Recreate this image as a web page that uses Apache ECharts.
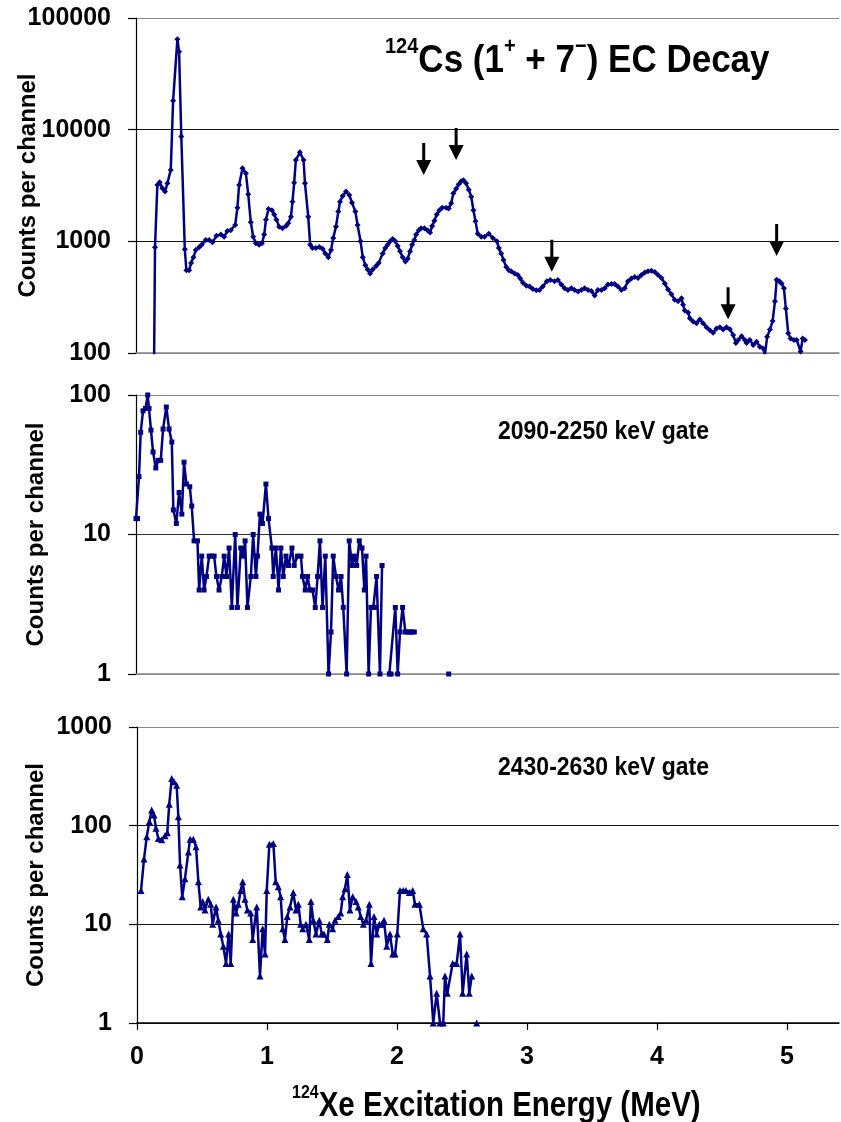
<!DOCTYPE html>
<html>
<head>
<meta charset="utf-8">
<script src="https://cdn.jsdelivr.net/npm/echarts@6/dist/echarts.min.js"></script>
<style>
html,body{margin:0;padding:0;background:#fff;}
#chart{width:841px;height:1122px;}
</style>
</head>
<body>
<div id="chart"></div>
<script>
// ---------- DATA ----------
// Top panel: singles spectrum (energy MeV, counts per channel)
const topE = [
0.138,0.146,0.164,0.182,0.202,0.223,0.241,0.267,0.285,0.318,
0.331,0.348,0.375,0.387,0.408,0.423,0.441,0.459,0.485,0.505,
0.536,0.562,0.587,0.618,0.652,0.677,0.702,0.728,0.762,0.779,
0.792,0.818,0.844,0.862,0.882,0.900,0.921,0.946,0.967,0.985,
0.998,1.018,1.044,1.062,1.079,1.100,1.125,1.152,1.169,1.190,
1.202,1.215,1.228,1.259,1.287,1.298,1.323,1.338,1.356,1.382,
1.408,1.433,1.454,1.477,1.498,1.515,1.536,1.554,1.567,1.587,
1.613,1.638,1.659,1.685,1.702,1.725,1.742,1.762,1.779,1.798,
1.818,1.844,1.864,1.895,1.915,1.933,1.952,1.972,1.992,2.010,
2.028,2.048,2.069,2.087,2.105,2.121,2.138,2.152,2.172,2.190,
2.215,2.241,2.259,2.275,2.292,2.310,2.331,2.352,2.382,2.402,
2.421,2.438,2.459,2.479,2.498,2.515,2.536,2.556,2.575,2.592,
2.608,2.625,2.652,2.677,2.710,2.741,2.772,2.787,2.805,2.823,
2.844,2.864,2.882,2.908,2.933,2.952,2.972,2.998,3.023,3.048,
3.075,3.100,3.125,3.156,3.182,3.215,3.241,3.267,3.292,3.318,
3.344,3.369,3.395,3.421,3.446,3.472,3.498,3.523,3.548,3.575,
3.600,3.625,3.652,3.677,3.702,3.728,3.754,3.779,3.805,3.831,
3.856,3.882,3.908,3.933,3.959,3.985,4.010,4.036,4.062,4.087,
4.113,4.138,4.164,4.190,4.202,4.215,4.241,4.254,4.279,4.305,
4.331,4.356,4.382,4.408,4.433,4.459,4.485,4.510,4.536,4.562,
4.587,4.608,4.625,4.652,4.677,4.690,4.715,4.741,4.767,4.792,
4.818,4.831,4.848,4.869,4.890,4.908,4.921,4.941,4.959,4.977,
4.992,5.010,5.028,5.054,5.075,5.105,5.121,5.138
];
const topCounts = [
60,885,3200,3380,2990,2790,3310,4360,18200,64500,
49900,8700,850,550,550,640,720,835,885,930,
1030,1030,980,1120,1150,1100,1240,1260,1400,2000,
3200,4520,4070,2640,1480,1100,960,930,960,1150,
1560,1950,1900,1740,1560,1350,1310,1370,1450,1660,
2260,3350,5350,6280,5350,3310,1660,930,870,870,
890,860,780,720,835,1070,1350,1850,2260,2550,
2790,2600,2220,1850,1400,1000,720,610,560,515,
560,600,640,780,870,930,1000,1050,1000,910,
815,720,660,700,815,930,1030,1150,1260,1310,
1310,1250,1200,1370,1530,1740,1900,2000,2000,1970,
2190,2700,2950,3240,3450,3530,3310,2900,2510,1900,
1510,1170,1100,1100,1170,1070,1000,870,780,680,
590,550,540,515,500,465,425,400,395,375,
365,367,395,440,450,440,450,410,380,367,
380,367,355,367,380,367,360,328,367,367,
380,410,415,415,395,367,380,440,465,480,
470,500,525,540,545,530,500,470,420,370,
335,300,290,310,270,240,230,205,191,185,
200,185,170,160,152,166,170,162,170,163,
145,123,131,141,131,123,131,118,126,114,
110,96,140,162,193,290,452,440,420,380,
250,150,135,131,131,103,135,131
];
// Arrows marking levels in the top panel: [energy MeV, counts at arrow tip]
const arrowTips = [[2.21,3930],[2.459,5350],[3.194,535],[4.548,201],[4.921,740]];

// Middle panel: 2090-2250 keV gate (null = empty channel)
const midE = [
0.000,0.012,0.023,0.036,0.054,0.073,0.090,0.100,0.115,0.131,
0.152,0.172,0.190,0.208,0.233,0.254,0.275,0.287,0.310,0.331,
0.352,0.369,0.387,0.413,0.428,0.446,0.472,0.485,0.505,0.523,
0.541,0.562,0.581,0.600,0.618,0.638,0.659,0.677,0.695,0.715,
0.736,0.762,0.779,0.805,0.823,0.838,0.856,0.882,0.900,0.921,
0.933,0.952,0.972,0.998,1.018,1.044,1.054,1.075,1.095,1.113,
1.131,1.152,1.172,1.198,1.215,1.241,1.267,1.279,1.300,1.318,
1.336,1.356,1.377,1.395,1.413,1.433,1.454,1.479,1.498,1.515,
1.536,1.556,1.575,1.592,1.618,1.638,1.659,1.677,1.695,1.715,
1.736,1.754,1.767,1.787,1.805,1.823,1.838,1.848,1.874,1.890,
1.910,1.946,1.959,1.992,2.010,2.028,2.048,2.069,2.088,2.105,
2.121,2.138,2.160,2.380,2.402
];
const midCounts = [
13,13,26,54,77,80,100,80,56,39,
30,34,34,57,82,57,46,15,12,20,
14,33,23,22,16,9,9,4,7,4,
5,7,7,7,5,4,5,7,5,8,
3,10,3,8,7,9,3,5,10,5,
7,14,12,23,13,8,5,8,4,8,
5,7,6,8,6,7,7,5,4,5,
4,4,3,5,9,3,7,1,2,7,
5,4,5,3,1,9,6,7,6,9,
8,4,7,1,3,3,3,5,1,6,
null,1,1,3,1,2,3,2,2,2,
2,2,null,null,1
];

// Bottom panel: 2430-2630 keV gate
const botE = [
0.031,0.054,0.075,0.095,0.113,0.131,0.146,0.164,0.190,0.215,
0.233,0.248,0.267,0.285,0.305,0.318,0.331,0.348,0.369,0.395,
0.408,0.433,0.454,0.472,0.490,0.505,0.523,0.548,0.567,0.582,
0.608,0.625,0.644,0.664,0.685,0.705,0.721,0.741,0.762,0.779,
0.798,0.813,0.831,0.849,0.875,0.890,0.921,0.946,0.967,0.985,
0.998,1.018,1.049,1.067,1.087,1.105,1.121,1.138,1.156,1.177,
1.202,1.223,1.241,1.259,1.275,1.300,1.325,1.338,1.356,1.377,
1.402,1.421,1.438,1.464,1.479,1.505,1.523,1.548,1.567,1.582,
1.600,1.618,1.638,1.659,1.685,1.702,1.721,1.741,1.762,1.787,
1.800,1.823,1.844,1.864,1.882,1.900,1.921,1.946,1.967,1.985,
2.002,2.023,2.048,2.069,2.095,2.121,2.138,2.172,2.202,2.228,
2.254,2.279,2.305,2.331,2.356,2.369,2.387,2.428,2.459,2.485,
2.505,2.536,2.556,2.575,2.594,2.613
];
const botCounts = [
22,46,77,110,144,128,94,74,72,79,
85,165,300,278,257,123,40,19,29,54,
73,73,61,27,15,17,14,18,16,10,
15,11,8,6,4,8,4,18,13,16,
22,27,18,14,13,7,15,3,9,5,
22,65,66,27,24,19,9,7,12,15,
21,14,16,10,9,10,7,17,11,8,
11,8,8,7,10,9,11,12,13,19,
23,32,14,19,17,15,12,10,11,16,
4,12,8,10,10,11,6,8,5,5,
8,22,22,22,21,22,16,16,9,8,
3,1,2,1,1,3,2,4,4,8,
2,5,2,3,null,1
];

const xTicks = [0,1,2,3,4,5];
const panelTitles = ['2090-2250 keV gate','2430-2630 keV gate'];
const yAxisTitle = 'Counts per channel';

// ---------- CHART ----------
const FONT = 'Liberation Sans, Arial, sans-serif';
const NAVY = '#000080';
const pairs = (xs, ys) => xs.map((x, i) => [x, ys[i] === null ? '-' : ys[i]]);

const chart = echarts.init(document.getElementById('chart'), null, {renderer: 'canvas'});

const grids = [
  {left: 136, right: 2, top: 18, height: 335, containLabel: false, outerBoundsMode: 'none'},
  {left: 136, right: 2, top: 395, height: 279, containLabel: false, outerBoundsMode: 'none'},
  {left: 137, right: 2, top: 727, height: 296, containLabel: false, outerBoundsMode: 'none'}
];

function xAxisFor(i) {
  const isBottom = i === 2;
  return {
    type: 'value', gridIndex: i, min: 0, max: 5.4, interval: 1,
    axisLine: {show: true, onZero: false, lineStyle: {color: isBottom ? '#000' : '#888', width: 1.5}},
    axisTick: {show: isBottom, length: 7, inside: false, lineStyle: {color: '#000', width: 1.2}},
    axisLabel: {
      show: isBottom, margin: 22, showMaxLabel: false,
      fontFamily: FONT, fontWeight: 'bold', fontSize: 25, color: '#000',
      formatter: v => (xTicks.indexOf(Math.round(v * 1000) / 1000) >= 0 ? String(Math.round(v)) : '')
    },
    splitLine: {show: false}
  };
}

function yAxisFor(i, min, max, gap, colors) {
  return {
    type: 'log', logBase: 10, gridIndex: i, min: min, max: max,
    name: yAxisTitle, nameLocation: 'middle', nameRotate: 90, nameGap: gap,
    nameMoveOverlap: false,
    nameTextStyle: {fontFamily: FONT, fontWeight: 'bold', fontSize: 24, color: '#000'},
    axisLine: {show: true, lineStyle: {color: '#000', width: 1.2}},
    axisTick: {show: true, length: 8, inside: false, lineStyle: {color: '#000', width: 1.2}},
    minorTick: {show: false},
    axisLabel: {
      margin: 25, fontFamily: FONT, fontWeight: 'bold', fontSize: 25, color: '#000',
      formatter: v => String(Math.round(v))
    },
    splitLine: {show: true, lineStyle: {color: colors, width: 1.2}}
  };
}

const option = {
  animation: false,
  backgroundColor: '#fff',
  grid: grids,
  xAxis: [xAxisFor(0), xAxisFor(1), xAxisFor(2)],
  yAxis: [
    yAxisFor(0, 100, 100000, 96, ['#888', '#111', '#111', '#888']),
    yAxisFor(1, 1, 100, 88, ['#888', '#333', '#888']),
    yAxisFor(2, 1, 1000, 89, ['#111', '#111', '#111', '#888'])
  ],
  series: [
    {
      type: 'line', xAxisIndex: 0, yAxisIndex: 0, data: pairs(topE, topCounts),
      symbol: 'diamond', symbolSize: 6, showSymbol: true, clip: true,
      lineStyle: {color: NAVY, width: 2.5}, itemStyle: {color: NAVY},
      markPoint: {
        silent: true,
        symbol: 'path://M6,0L9,0L9,17L15,17L7.5,32L0,17L6,17Z',
        symbolSize: [15, 32], symbolOffset: [0, '-50%'],
        itemStyle: {color: '#000'}, label: {show: false},
        data: arrowTips.map(a => ({coord: a}))
      }
    },
    {
      type: 'line', xAxisIndex: 1, yAxisIndex: 1, data: pairs(midE, midCounts),
      symbol: 'rect', symbolSize: 5, showSymbol: true, clip: true, connectNulls: false,
      lineStyle: {color: NAVY, width: 2.5}, itemStyle: {color: NAVY}
    },
    {
      type: 'line', xAxisIndex: 2, yAxisIndex: 2, data: pairs(botE, botCounts),
      symbol: 'triangle', symbolSize: 7, showSymbol: true, clip: true, connectNulls: false,
      lineStyle: {color: NAVY, width: 2.5}, itemStyle: {color: NAVY}
    }
  ],
  graphic: [
    {
      type: 'text', x: 385, y: 36, scaleY: 1.12, silent: true,
      style: {
        text: '{s|124}{n|Cs (1}{s|+}{n| + 7}{s|\u2212}{n|) EC Decay}',
        align: 'left', verticalAlign: 'top',
        rich: {
          n: {fontFamily: FONT, fontWeight: 'bold', fontSize: 35, color: '#000', verticalAlign: 'bottom', lineHeight: 40},
          s: {fontFamily: FONT, fontWeight: 'bold', fontSize: 20, color: '#000', verticalAlign: 'top', lineHeight: 40}
        }
      }
    },
    {
      type: 'text', x: 498, y: 419, scaleY: 1.12, silent: true,
      style: {text: panelTitles[0], align: 'left', verticalAlign: 'top', fontFamily: FONT, fontWeight: 'bold', fontSize: 23, fill: '#000'}
    },
    {
      type: 'text', x: 498, y: 755, scaleY: 1.12, silent: true,
      style: {text: panelTitles[1], align: 'left', verticalAlign: 'top', fontFamily: FONT, fontWeight: 'bold', fontSize: 23, fill: '#000'}
    },
    {
      type: 'text', x: 292, y: 1083, scaleY: 1.2, silent: true,
      style: {
        text: '{s|124}{n|Xe Excitation Energy (MeV)}',
        align: 'left', verticalAlign: 'top',
        rich: {
          n: {fontFamily: FONT, fontWeight: 'bold', fontSize: 29.5, color: '#000', verticalAlign: 'bottom', lineHeight: 34},
          s: {fontFamily: FONT, fontWeight: 'bold', fontSize: 16, color: '#000', verticalAlign: 'top', lineHeight: 34}
        }
      }
    }
  ]
};

chart.setOption(option);
</script>
</body>
</html>
